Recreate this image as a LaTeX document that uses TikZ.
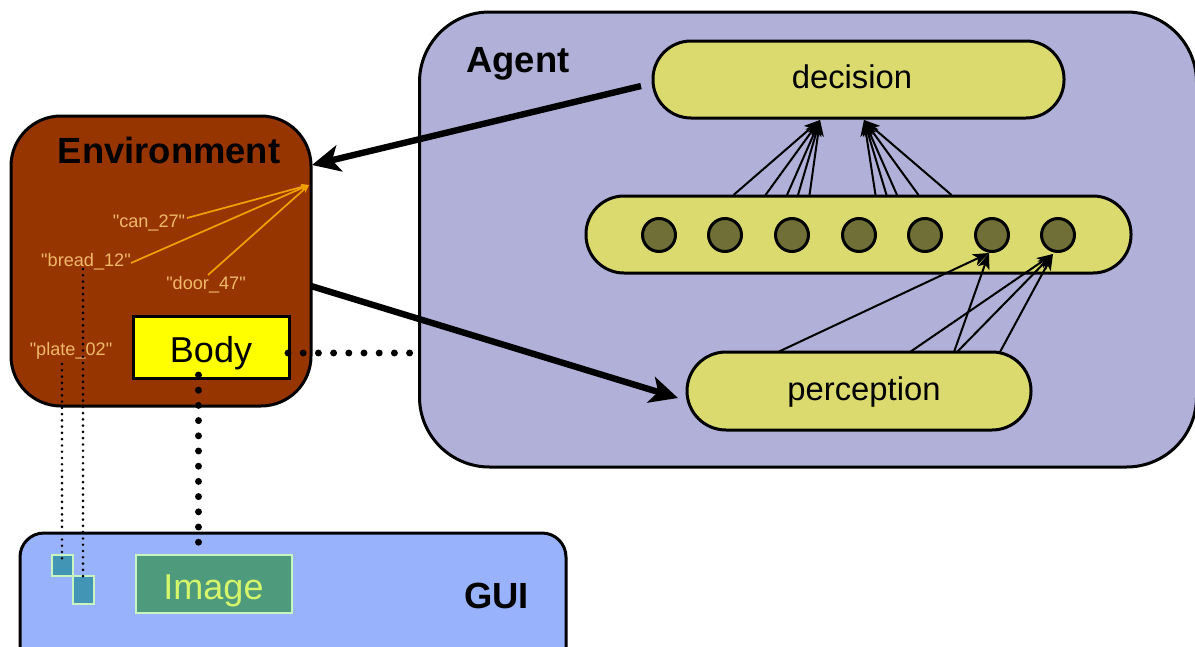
\documentclass[tikz,border=0pt]{standalone}
\usepackage{fontspec}
\setmainfont{Liberation Sans}
\newfontfamily\objfont{Liberation Sans}
\usetikzlibrary{arrows.meta}
\definecolor{agentc}{HTML}{B0B0D8}
\definecolor{yellowc}{HTML}{DBDA6F}
\definecolor{circlec}{HTML}{6F6F37}
\definecolor{envc}{HTML}{963500}
\definecolor{guic}{HTML}{98B2FC}
\definecolor{labelc}{HTML}{F0B868}
\definecolor{linec}{HTML}{F0A000}
\definecolor{imgc}{HTML}{4E9A7C}
\definecolor{imgb}{HTML}{C8F5C0}
\definecolor{sqc}{HTML}{4295B5}
\definecolor{imgt}{HTML}{D5F56A}
\definecolor{bodyc}{HTML}{FFFF00}
\tikzset{
  x=0.75pt, y=-0.75pt,
  box/.style n args={5}{draw=black, line width=2.25pt, fill=#1, rounded corners=#2*0.75pt,
     minimum width=#3*0.75pt, minimum height=#4*0.75pt, inner sep=0pt, outer sep=0pt, text=#5},
  dot/.style={circle, draw=black, line width=2.25pt, fill=circlec, minimum size=33*0.75pt, inner sep=0pt, outer sep=0pt},
  title/.style={font=\fontsize{27.3}{30}\selectfont\bfseries, inner sep=0pt, text=black},
  objlabel/.style={font=\objfont\fontsize{13.6}{16}\selectfont, text=labelc, inner sep=0pt},
  layerlabel/.style={font=\fontsize{24.6}{28}\selectfont, inner sep=0pt, text=black},
  biglabel/.style={font=\fontsize{27}{30}\selectfont, inner sep=0pt},
  thickarrow/.style={line width=4.8pt, -{Stealth[length=21pt,width=20pt,inset=5.5pt]}},
  thinarrow/.style={line width=1.5pt, -{Stealth[length=12pt,width=9pt,inset=3pt]}},
  orangeline/.style={line width=1.3pt, draw=linec, -{Stealth[length=6pt,width=5pt]}},
  bigdots/.style={line width=5.2pt, line cap=round, dash pattern=on 0pt off 11.4pt},
  smalldots/.style={line width=2.2pt, line cap=round, dash pattern=on 0pt off 4.7pt},
  picbox/.style={draw=imgb, line width=1.1pt, inner sep=0pt, outer sep=0pt},
}
\begin{document}
\begin{tikzpicture}
\useasboundingbox (0,0) rectangle (1195,646);
\clip (0,0) rectangle (1195,646);
\fill[white] (0,0) rectangle (1195,646);
% panels
\node[box={agentc}{70}{777}{455}{black}] (agent) at (808,239.5) {};
\node[box={envc}{50}{300}{290}{black}] (env) at (161,261) {};
\node[box={guic}{24}{546}{140}{black}] (gui) at (293,603) {};
\node[title] (agentt) at (518,64) {Agent};
\node[title] (envt) at (169,150) {Environment};
\node[title] (guit) at (496.5,596) {GUI};
% agent layers
\node[box={yellowc}{38}{411}{77}{black}] (decision) at (858.5,79.5) {};
\node[layerlabel] (decisiont) at (852,77) {decision};
\node[box={yellowc}{38}{545}{77}{black}] (mid) at (858.5,234.5) {};
\node[box={yellowc}{39}{344}{78}{black}] (perception) at (859,391) {};
\node[layerlabel] (perceptiont) at (864,392) {perception};
\foreach \n/\x in {1/659,2/725,3/792,4/859,5/925,6/992,7/1058}
  \node[dot] (c\n) at (\x,235) {};
% arrows mid -> decision
\coordinate (dl) at (820,120);
\coordinate (dr) at (864,120);
\foreach \x in {733.5,765.5,787,798,809.5}
  \draw[thinarrow] (\x,195) -- (dl);
\foreach \x in {875.5,886.5,897,918.5,951.5}
  \draw[thinarrow] (\x,195) -- (dr);
% arrows perception -> circles
\coordinate (t6) at (989,253);
\coordinate (t7) at (1053,254);
\foreach \x in {778,954}
  \draw[thinarrow] (\x,352) -- (t6);
\foreach \x in {910,957,1000}
  \draw[thinarrow] (\x,352) -- (t7);
% thick arrows
\coordinate (dsrc) at (641,86);
\coordinate (envin) at (312,165);
\coordinate (envout) at (311,286);
\coordinate (pin) at (678,398);
\draw[thickarrow] (dsrc) -- (envin);
\draw[thickarrow] (envout) -- (pin);
% object labels
\node[objlabel] (can) at (149,223) {"can\_27"};
\node[objlabel] (bread) at (86,262) {"bread\_12"};
\node[objlabel] (door) at (206,285) {"door\_47"};
\node[objlabel] (plate) at (71,351) {"plate\_02"};
\coordinate (focus) at (309,185);
\draw[orangeline] (187,218) -- (focus);
\draw[orangeline] (131,263) -- (focus);
\draw[orangeline] (208,275) -- (focus);
% body
\node[box={bodyc}{0}{156}{62}{black}] (body) at (211,347) {};
\node[biglabel, text=black] (bodyt) at (211,353) {Body};
% gui content
\node[picbox, fill=imgc, minimum width=156*0.75pt, minimum height=58*0.75pt] (image) at (214,584) {};
\node[biglabel, text=imgt] (imaget) at (213.5,591) {Image};
\node[picbox, fill=sqc, minimum width=21*0.75pt, minimum height=21*0.75pt] (sqa) at (62.5,565.5) {};
\node[picbox, fill=sqc, minimum width=21*0.75pt, minimum height=28*0.75pt] (sqb) at (83.5,590) {};
% dotted links
\coordinate (bodyr) at (288,353);
\coordinate (agentl) at (412,353);
\coordinate (bodyb) at (198.5,375);
\coordinate (imgtop) at (198.5,554);
\draw[bigdots] (bodyr) -- (agentl);
\draw[bigdots] (bodyb) -- (imgtop);
\coordinate (platea) at (62,364);
\coordinate (plateb) at (62,560);
\coordinate (breada) at (83,269);
\coordinate (breadb) at (83,582);
\draw[smalldots] (platea) -- (plateb);
\draw[smalldots] (breada) -- (breadb);
\end{tikzpicture}
\end{document}
